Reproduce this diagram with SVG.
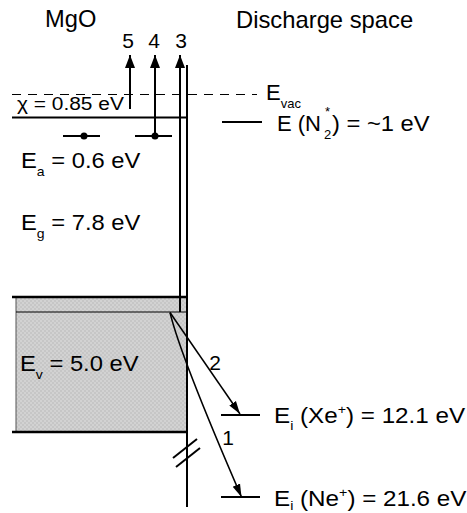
<svg xmlns="http://www.w3.org/2000/svg" width="467" height="513" viewBox="0 0 467 513">
<style>
text{font-family:"Liberation Sans",Arial,sans-serif;fill:#000}
.t{font-size:22px}
.s{font-size:13px}
.n{font-size:21px}
.ln{stroke:#000;stroke-width:2;fill:none}
.thin{stroke:#000;stroke-width:1.2;fill:none}
</style>
<defs>
<pattern id="chk" width="4" height="4" patternUnits="userSpaceOnUse">
<rect width="4" height="4" fill="#c6c6c6"/>
<rect width="2" height="2" fill="#d2d2d2"/>
<rect x="2" y="2" width="2" height="2" fill="#d2d2d2"/>
</pattern>
<marker id="ah" markerUnits="userSpaceOnUse" markerWidth="14" markerHeight="10" refX="13" refY="5" orient="auto">
<path d="M0,0 L13,5 L0,10 Z" fill="#000"/>
</marker>
<marker id="ahs" markerUnits="userSpaceOnUse" markerWidth="14" markerHeight="10" refX="13" refY="4.5" orient="auto">
<path d="M0,0.5 L13,4.5 L0,8.5 Z" fill="#000"/>
</marker>
</defs>

<g id="valence-band">
<rect x="16" y="297" width="171" height="135" fill="url(#chk)" stroke="#555" stroke-width="1"/>
<line class="thin" x1="16" y1="312" x2="187" y2="312" stroke-width="0.8"/>
<line x1="12" y1="297" x2="187" y2="297" stroke="#000" stroke-width="2.5"/>
<line x1="12" y1="432" x2="187" y2="432" stroke="#000" stroke-width="2.5"/>
<text class="t" transform="translate(20,371) scale(1.08,1)">E<tspan class="s" dy="8">v</tspan><tspan dy="-8"> = 5.0 eV</tspan></text>
</g>

<g id="conduction-band">
<line class="ln" x1="12" y1="117.5" x2="187" y2="117.5"/>
<text transform="translate(17,110) scale(1.1,1)" style="font-size:19px">χ = 0.85 eV</text>
</g>

<g id="vacuum-level">
<line x1="12" y1="94.5" x2="257" y2="94.5" stroke="#000" stroke-width="1.2" stroke-dasharray="9,7"/>
<text class="t" x="266" y="100">E<tspan class="s" dy="8">vac</tspan></text>
</g>

<g id="acceptor-levels">
<line class="ln" x1="63" y1="136" x2="100" y2="136"/>
<circle cx="84" cy="136" r="3.5"/>
<line class="ln" x1="135" y1="136" x2="172" y2="136"/>
<circle cx="155" cy="136" r="3.5"/>
</g>

<g id="labels-mgo">
<text transform="translate(45,27) scale(1.03,1)" style="font-size:23px">MgO</text>
<text class="t" transform="translate(21,168) scale(1.08,1)">E<tspan class="s" dy="8">a</tspan><tspan dy="-8"> = 0.6 eV</tspan></text>
<text class="t" transform="translate(21,230) scale(1.08,1)">E<tspan class="s" dy="8">g</tspan><tspan dy="-8"> = 7.8 eV</tspan></text>
</g>

<g id="surface">
<line class="ln" x1="187" y1="65" x2="187" y2="507"/>
<line class="ln" x1="173" y1="458" x2="197" y2="439"/>
<line class="ln" x1="176" y1="467" x2="200" y2="448"/>
</g>

<g id="discharge-space">
<text transform="translate(236,28) scale(1.035,1)" style="font-size:23px">Discharge space</text>
<line class="ln" x1="222" y1="122" x2="262" y2="122"/>
<text class="t" x="277" y="131">E (N</text>
<text class="s" x="324" y="139">2</text>
<text class="s" x="325" y="116">*</text>
<text class="t" transform="translate(332,131) scale(1.08,1)">) = ~1 eV</text>
<line class="ln" x1="221" y1="415" x2="260" y2="415"/>
<text class="t" transform="translate(274,423) scale(1.1,1)">E<tspan class="s" dy="7">i</tspan><tspan dy="-7"> (Xe</tspan><tspan class="s" dy="-9">+</tspan><tspan dy="9">) = 12.1 eV</tspan></text>
<line class="ln" x1="221" y1="497" x2="260" y2="497"/>
<text class="t" transform="translate(274,506) scale(1.1,1)">E<tspan class="s" dy="4">i</tspan><tspan dy="-4"> (Ne</tspan><tspan class="s" dy="-9">+</tspan><tspan dy="9">) = 21.6 eV</tspan></text>
</g>

<g id="connectors">
<line class="ln" x1="130" y1="109" x2="130" y2="55" marker-end="url(#ah)"/>
<line class="ln" x1="155" y1="136" x2="155" y2="55" marker-end="url(#ah)"/>
<line class="ln" x1="180" y1="312" x2="180" y2="55" marker-end="url(#ah)"/>
<text class="n" x="128" y="48" text-anchor="middle">5</text>
<text class="n" x="154" y="48" text-anchor="middle">4</text>
<text class="n" x="181" y="48" text-anchor="middle">3</text>
<line x1="170" y1="312.5" x2="240" y2="414" stroke="#000" stroke-width="1.5" marker-end="url(#ahs)"/>
<path d="M170,312.5 Q180,355 241.5,497" stroke="#000" stroke-width="1.5" fill="none" marker-end="url(#ahs)"/>
<text class="n" x="215" y="370" text-anchor="middle">2</text>
<text class="n" x="228" y="445" text-anchor="middle">1</text>
</g>
</svg>
